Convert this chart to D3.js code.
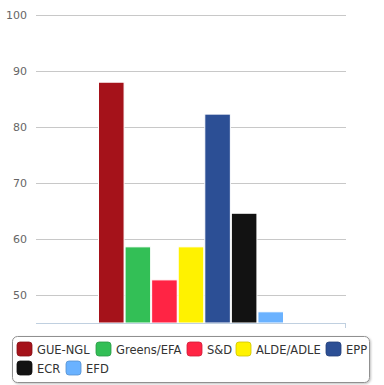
<!DOCTYPE html>
<html><head><meta charset="utf-8">
<script src="https://cdn.jsdelivr.net/npm/d3@7"></script>
<style>body{margin:0;background:#fff;font-family:"DejaVu Sans",sans-serif}</style>
</head><body><svg id="c" width="384" height="385"></svg>
<script>
const series = ["GUE-NGL","Greens/EFA","S&D","ALDE/ADLE","EPP","ECR","EFD"];
const values = [88.0, 58.6, 52.7, 58.6, 82.3, 64.6, 47.0];
const colors = ["#A5121A","#33BF56","#FF2444","#FFF200","#2C4F95","#121212","#6AB2FF"];
const yTicks = [50,60,70,80,90,100];

const svg = d3.select("#c");
const L = 36, R = 346, T = 15, B = 323;
const y = d3.scaleLinear().domain([45,100]).range([B,T]);
const x0 = d3.scaleBand().domain(["c"]).range([L,R]).paddingInner(0).paddingOuter(0);
const gp = 0.2*(R-L);
const x1 = d3.scaleBand().domain(series).range([L+gp, R-gp]).padding(0);

// grid
svg.append("g").selectAll("line").data(yTicks).join("line")
  .attr("x1",L).attr("x2",R).attr("y1",d=>Math.round(y(d))+0.5).attr("y2",d=>Math.round(y(d))+0.5)
  .attr("stroke","#C8C8C8").attr("stroke-width",1);
const yAxis = d3.axisLeft(y).tickValues(yTicks).tickSize(0).tickPadding(9);
const ga = svg.append("g").attr("transform",`translate(${L},0)`).call(yAxis);
ga.select(".domain").remove();
ga.selectAll("text").attr("fill","#666").style("font-size","11px").style("font-family","'DejaVu Sans',sans-serif");

// bars
svg.append("g").selectAll("rect").data(values).join("rect")
  .attr("x",(d,i)=>x1(series[i])+0.5).attr("width",x1.bandwidth()-1)
  .attr("y",d=>y(d)).attr("height",d=>B-y(d))
  .attr("fill",(d,i)=>colors[i]).attr("stroke","#fff").attr("stroke-width",1);

// x axis
svg.append("line").attr("x1",L).attr("x2",R).attr("y1",B+0.5).attr("y2",B+0.5).attr("stroke","#C0D0E0");
svg.append("line").attr("x1",R-0.5).attr("x2",R-0.5).attr("y1",B).attr("y2",B+5).attr("stroke","#C0D0E0");

// legend
const defs = svg.append("defs");
const f = defs.append("filter").attr("id","sh").attr("x","-5%").attr("y","-20%").attr("width","110%").attr("height","150%");
f.append("feDropShadow").attr("dx",1).attr("dy",1).attr("stdDeviation",1).attr("flood-color","#000").attr("flood-opacity",0.25);
svg.append("rect").attr("x",12.5).attr("y",336.5).attr("width",357).attr("height",46).attr("rx",5)
  .attr("fill","#fff").attr("stroke","#909090").attr("stroke-width",1).attr("filter","url(#sh)");
const pos = [[17,349],[96,349],[187,349],[236,349],[326,349],[17,368],[66,368]];
const lg = svg.append("g").selectAll("g").data(series).join("g")
  .attr("transform",(d,i)=>`translate(${pos[i][0]},${pos[i][1]})`);
lg.append("rect").attr("x",0).attr("y",-7).attr("width",15).attr("height",14).attr("rx",3)
  .attr("fill",(d,i)=>colors[i]).attr("stroke",(d,i)=>d3.color(colors[i]).darker(0.6)).attr("stroke-width",0.8);
lg.append("text").attr("x",20).attr("y",4.5).text(d=>d)
  .attr("fill","#333").style("font-size","11.5px").style("font-family","'DejaVu Sans',sans-serif");
</script></body></html>
